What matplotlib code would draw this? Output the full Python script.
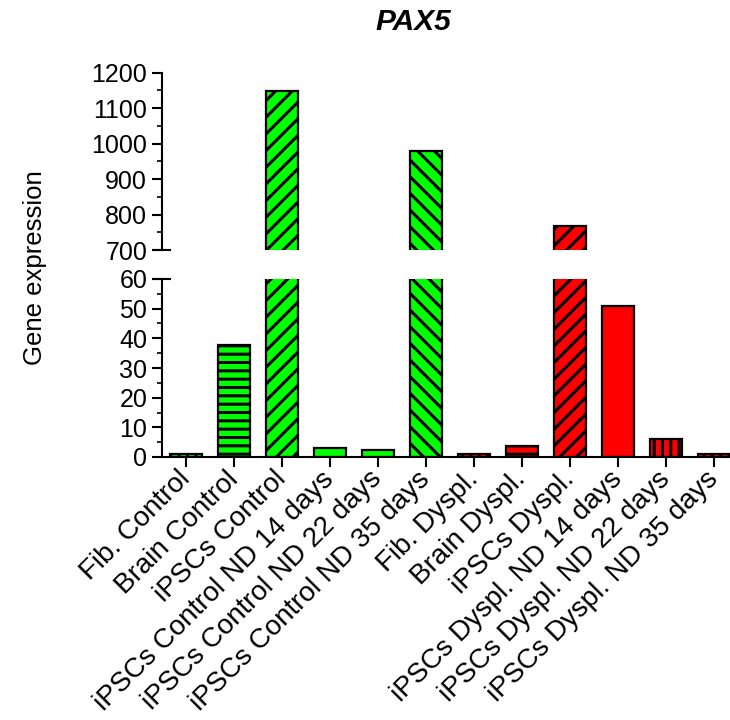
import matplotlib
matplotlib.use("Agg")
import matplotlib.pyplot as plt
import numpy as np

plt.rcParams['font.family'] = ['Liberation Sans', 'DejaVu Sans']
plt.rcParams['hatch.linewidth'] = 2.2
plt.rcParams['hatch.color'] = 'black'

categories = [
    "Fib. Control", "Brain Control", "iPSCs Control",
    "iPSCs Control ND 14 days", "iPSCs Control ND 22 days", "iPSCs Control ND 35 days",
    "Fib. Dyspl.", "Brain Dyspl.", "iPSCs Dyspl.",
    "iPSCs Dyspl. ND 14 days", "iPSCs Dyspl. ND 22 days", "iPSCs Dyspl. ND 35 days",
]
values = [1.0, 37.8, 1148, 3.2, 2.4, 979, 1.1, 3.8, 768, 50.9, 5.9, 0.9]
colors = ["#00FF00"] * 6 + ["#FF0000"] * 6
hatches = ["||", "--", "//", "", "", "\\\\", "||", "--", "//", "", "||", "||"]

top_ticks = [700, 800, 900, 1000, 1100, 1200]
bottom_ticks = [0, 10, 20, 30, 40, 50, 60]

fig = plt.figure(figsize=(7.3, 7.2), dpi=100)
W, H = 730, 720
left_px, right_px = 162, 738
ax_top = fig.add_axes([left_px / W, 1 - 250 / H, (right_px - left_px) / W, 177.3 / H])
ax_bot = fig.add_axes([left_px / W, 1 - 457 / H, (right_px - left_px) / W, 178 / H])

x = np.arange(len(categories))
for ax in (ax_top, ax_bot):
    for xi, v, c, h in zip(x, values, colors, hatches):
        ax.bar(xi, v, width=0.67, color=c, edgecolor='black', linewidth=1.6, hatch=h, zorder=2)
    ax.set_xlim(-0.5, len(categories) - 0.5)
    ax.spines['top'].set_visible(False)
    ax.spines['right'].set_visible(False)
    ax.spines['left'].set_linewidth(1.5)
    ax.tick_params(axis='y', which='major', direction='out', length=7.2, width=1.5,
                   labelsize=18, pad=3.5)
    ax.tick_params(axis='y', which='minor', direction='out', length=3.6, width=1.2)

# upper segment of the broken axis
ax_top.set_ylim(700, 1200)
ax_top.set_yticks(top_ticks)
ax_top.set_yticks(np.arange(700, 1201, 50), minor=True)
ax_top.spines['bottom'].set_visible(False)
ax_top.set_xticks([])

# lower segment of the broken axis
ax_bot.set_ylim(0, 60)
ax_bot.set_yticks(bottom_ticks)
ax_bot.set_yticks(np.arange(0, 61, 5), minor=True)
ax_bot.spines['bottom'].set_linewidth(1.5)
ax_bot.set_xticks(x)
ax_bot.set_xticklabels(categories, rotation=45, ha='right', va='center',
                       rotation_mode='anchor', fontsize=20)
ax_bot.tick_params(axis='x', direction='out', length=7.2, width=1.5, pad=6)

# end caps at the break
cap = 8 / (right_px - left_px)
ax_top.plot([-cap, cap], [700, 700], color='black', lw=1.5,
            transform=ax_top.get_yaxis_transform(), clip_on=False, zorder=3)
ax_bot.plot([-cap, cap], [60, 60], color='black', lw=1.5,
            transform=ax_bot.get_yaxis_transform(), clip_on=False, zorder=3)

fig.text(35 / W, 1 - 268 / H, "Gene expression", rotation=90, ha='center', va='center',
         fontsize=18.5)
fig.text(413 / W, 1 - 22 / H, "PAX5", ha='center', va='center', fontsize=21.5,
         fontweight='bold', fontstyle='italic')

fig.savefig("out.png", dpi=100)
